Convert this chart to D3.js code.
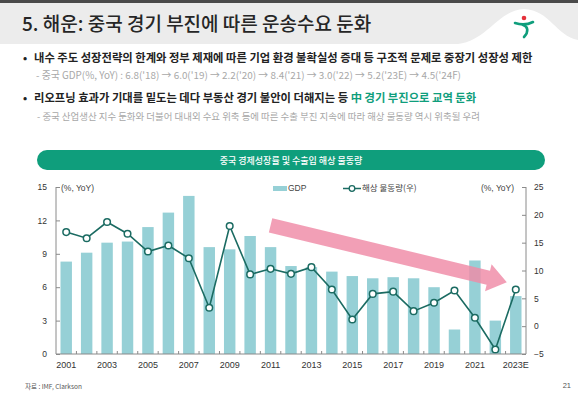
<!DOCTYPE html>
<html>
<head>
<meta charset="utf-8">
<script src="https://cdn.jsdelivr.net/npm/d3@7"></script>
<style>
  body { margin: 0; background: #fff; }
  svg { display: block; font-family: "Noto Sans CJK KR", "Noto Sans", sans-serif; }
  .num { font-family: "Liberation Sans", Arial, sans-serif; }
</style>
</head>
<body>
<svg id="chart" width="578" height="399"></svg>
<script>
// chart data
var years = ['2001','2002','2003','2004','2005','2006','2007','2008','2009','2010','2011','2012',
             '2013','2014','2015','2016','2017','2018','2019','2020','2021','2022','2023E'];
var tick_years = ['2001','2003','2005','2007','2009','2011','2013','2015','2017','2019','2021','2023E'];
var gdp = [8.3, 9.1, 10.0, 10.1, 11.4, 12.7, 14.2, 9.6, 9.4, 10.6, 9.6, 7.9,
           7.8, 7.4, 7.0, 6.8, 6.9, 6.8, 6.0, 2.2, 8.4, 3.0, 5.2];
var seaborne = [16.9, 15.8, 18.7, 16.6, 13.4, 14.5, 12.2, 3.3, 18.0, 9.3, 10.3, 9.4,
                10.6, 6.6, 1.2, 5.8, 6.2, 2.7, 4.2, 6.4, 1.5, -4.2, 6.6];
var left_ticks = [0, 3, 6, 9, 12, 15];
var right_ticks = [-5, 0, 5, 10, 15, 20, 25];

var GREEN = '#0f9e7c';
var BAR = '#96d0d6';
var LINE = '#1b6b62';
var AXIS = '#8a8a8a';

var svg = d3.select('#chart');

// ---- slide header ----
svg.append('rect').attr('x', 0).attr('y', 0).attr('width', 578).attr('height', 44).attr('fill', '#ececec');
svg.append('rect').attr('x', 0).attr('y', 0).attr('width', 578).attr('height', 3).attr('fill', '#4a4a4a');
svg.append('path')
	.attr('d', 'M458,44 C488,40 498,10 524,9 C550,10 556,36 578,40 L578,44 Z')
	.attr('fill', '#fff');

// logo
var logo = svg.append('g').attr('transform', 'translate(524,24)');
logo.append('circle').attr('cx', 0).attr('cy', -6).attr('r', 2.3).attr('fill', '#e5323b');
logo.append('path').attr('d', 'M-9,-1 C-3,1 3,1 9,-2').attr('fill', 'none').attr('stroke', GREEN).attr('stroke-width', 2.6).attr('stroke-linecap', 'round');
logo.append('path').attr('d', 'M-1,1 C4,2 5,8 0,13').attr('fill', 'none').attr('stroke', GREEN).attr('stroke-width', 2.6).attr('stroke-linecap', 'round');

svg.append('text').attr('x', 22).attr('y', 31)
	.attr('font-size', 19).attr('font-weight', 500).attr('fill', '#262626')
	.text('5. 해운: 중국 경기 부진에 따른 운송수요 둔화');

// bullets
function bullet(y, parts)
{
	svg.append('text').attr('x', 23).attr('y', y).attr('font-size', 11).attr('font-weight', 700).attr('fill', '#222').text('•');
	var t = svg.append('text').attr('x', 34).attr('y', y).attr('font-size', 11.3).attr('font-weight', 700).attr('fill', '#222');
	parts.forEach(function(p) { t.append('tspan').attr('fill', p[1]).text(p[0]); });
}
function sub(y, x, size, s)
{
	svg.append('text').attr('x', x).attr('y', y).attr('font-size', size).attr('fill', '#a8a8a8').text(s);
}
bullet(62, [['내수 주도 성장전략의 한계와 정부 제재에 따른 기업 환경 불확실성 증대 등 구조적 문제로 중장기 성장성 제한', '#222']]);
sub(79, 36, 9.9, "- 중국 GDP(%, YoY) : 6.8('18) → 6.0('19) → 2.2('20) → 8.4('21) → 3.0('22) → 5.2('23E) → 4.5('24F)");
bullet(102, [['리오프닝 효과가 기대를 밑도는 데다 부동산 경기 불안이 더해지는 등 ', '#222'], ['中 경기 부진으로 교역 둔화', GREEN]]);
sub(120, 37, 9.45, '-  중국 산업생산 지수 둔화와 더불어 대내외 수요 위축 등에 따른 수출 부진 지속에 따라 해상 물동량 역시 위축될 우려');

// chart title pill
svg.append('rect').attr('x', 37).attr('y', 150).attr('width', 508).attr('height', 20).attr('rx', 10).attr('fill', GREEN);
svg.append('text').attr('x', 291).attr('y', 164).attr('text-anchor', 'middle')
	.attr('font-size', 9).attr('font-weight', 500).attr('fill', '#fff')
	.text('중국 경제성장률 및 수출입 해상 물동량');

// ---- chart ----
var X0 = 56, X1 = 526, Y0 = 354, Y1 = 187;

var x = d3.scaleBand().domain(years).range([X0, X1]).paddingInner(0.44).paddingOuter(0.22);
var yl = d3.scaleLinear().domain([0, 15]).range([Y0, Y1]);
var yr = d3.scaleLinear().domain([-5, 25]).range([Y0, Y1]);

var bars = svg.append('g');
bars.selectAll('rect').data(gdp).enter().append('rect')
	.attr('x', function(d, i) { return x(years[i]); })
	.attr('y', function(d) { return yl(d); })
	.attr('width', x.bandwidth())
	.attr('height', function(d) { return Y0 - yl(d); })
	.attr('fill', BAR);

// trend arrow (annotation, placed in data space)
var step = x.step();
function cx(yr_) { return x(yr_) + x.bandwidth() / 2; }
var a0 = [cx('2011'), yl(11.55)];
var a1 = [cx('2022') + step * 0.56, yl(6.45)];
var ang = Math.atan2(a1[1] - a0[1], a1[0] - a0[0]);
var len = Math.hypot(a1[0] - a0[0], a1[1] - a0[1]);
var sw = 7.3, hw = 14, hl = 19;
svg.append('path')
	.attr('transform', 'translate(' + a0[0] + ',' + a0[1] + ') rotate(' + (ang * 180 / Math.PI) + ')')
	.attr('d', 'M0,' + (-sw) + ' L' + (len - hl) + ',' + (-sw) + ' L' + (len - hl) + ',' + (-hw) +
	           ' L' + len + ',0 L' + (len - hl) + ',' + hw + ' L' + (len - hl) + ',' + sw + ' L0,' + sw + ' Z')
	.attr('fill', '#ef8aa6').attr('opacity', 0.82);

// line
var line = d3.line()
	.x(function(d, i) { return cx(years[i]); })
	.y(function(d) { return yr(d); });
svg.append('path').datum(seaborne).attr('d', line)
	.attr('fill', 'none').attr('stroke', LINE).attr('stroke-width', 1.6);
svg.append('g').selectAll('circle').data(seaborne).enter().append('circle')
	.attr('cx', function(d, i) { return cx(years[i]); })
	.attr('cy', function(d) { return yr(d); })
	.attr('r', 3.3)
	.attr('fill', '#fff').attr('stroke', LINE).attr('stroke-width', 1.5);

// axes
function style_axis(g)
{
	g.selectAll('path, line').attr('stroke', AXIS);
	g.selectAll('text').attr('fill', '#333').attr('class', 'num');
}
var ax_left = svg.append('g').attr('transform', 'translate(' + X0 + ',0)')
	.call(d3.axisLeft(yl).tickValues(left_ticks).tickSize(-4).tickSizeOuter(0).tickPadding(9));
style_axis(ax_left);
ax_left.selectAll('text').attr('font-size', 8.5);
ax_left.select('.domain').attr('d', 'M0,' + Y1 + 'V' + Y0);

var ax_right = svg.append('g').attr('transform', 'translate(' + X1 + ',0)')
	.call(d3.axisRight(yr).tickValues(right_ticks).tickSize(-4).tickSizeOuter(0).tickPadding(8));
style_axis(ax_right);
ax_right.selectAll('text').attr('font-size', 8.5);
ax_right.select('.domain').attr('d', 'M0,' + Y1 + 'V' + Y0);

var ax_bottom = svg.append('g').attr('transform', 'translate(0,' + Y0 + ')')
	.call(d3.axisBottom(x).tickValues(tick_years).tickSize(0).tickPadding(8));
style_axis(ax_bottom);
ax_bottom.select('.domain').attr('d', 'M' + X0 + ',0H' + X1);
ax_bottom.selectAll('text').attr('font-size', 9);
// small inward ticks at band boundaries
ax_bottom.append('g').selectAll('line').data(years.slice(1)).enter().append('line')
	.attr('x1', function(d) { return x(d) - step * x.paddingInner() / 2; })
	.attr('x2', function(d) { return x(d) - step * x.paddingInner() / 2; })
	.attr('y1', 0).attr('y2', -3)
	.attr('stroke', AXIS);

// unit labels
svg.append('text').attr('class', 'num').attr('x', 61).attr('y', 191).attr('font-size', 8.5).attr('fill', '#444').text('(%, YoY)');
svg.append('text').attr('class', 'num').attr('x', 514).attr('y', 191).attr('text-anchor', 'end').attr('font-size', 8.5).attr('fill', '#444').text('(%, YoY)');

// legend
svg.append('rect').attr('x', 273).attr('y', 186).attr('width', 14).attr('height', 5).attr('fill', BAR);
svg.append('text').attr('class', 'num').attr('x', 288).attr('y', 191).attr('font-size', 8.5).attr('fill', '#444').text('GDP');
svg.append('line').attr('x1', 343).attr('x2', 361).attr('y1', 188.5).attr('y2', 188.5).attr('stroke', LINE).attr('stroke-width', 1.5);
svg.append('circle').attr('cx', 352).attr('cy', 188.5).attr('r', 2.8).attr('fill', '#fff').attr('stroke', LINE).attr('stroke-width', 1.3);
svg.append('text').attr('x', 362).attr('y', 191).attr('font-size', 8.5).attr('fill', '#444').text('해상 물동량(우)');

// footer
svg.append('text').attr('x', 25).attr('y', 389).attr('font-size', 6.5).attr('fill', '#555').text('자료 : IMF, Clarkson');
svg.append('text').attr('class', 'num').attr('x', 571).attr('y', 388).attr('text-anchor', 'end').attr('font-size', 7.5).attr('fill', '#555').text('21');
</script>
</body>
</html>
